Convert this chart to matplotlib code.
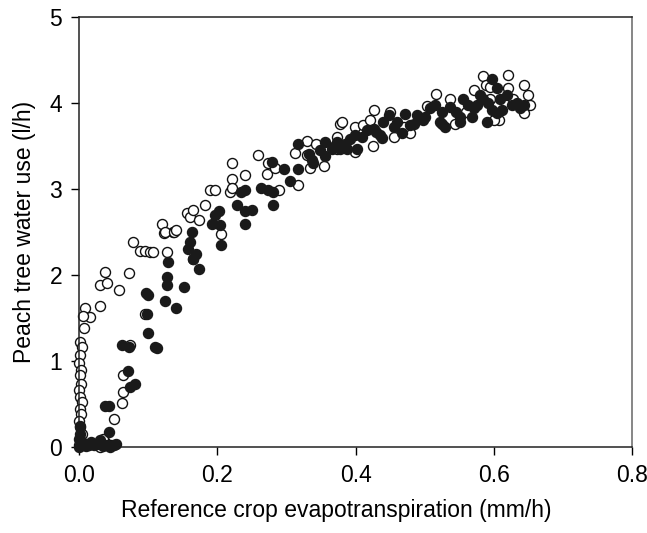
import numpy as np
import matplotlib
matplotlib.use("Agg")
import matplotlib.pyplot as plt

plt.rcParams['font.family'] = ['Liberation Sans', 'DejaVu Sans']

# open circles (x = ETo mm/h, y = water use l/h)
open_x = [0.001, 0.004, 0.002, 0.000, 0.003, 0.001, 0.003, 0.000, 0.002, 0.004,
          0.001, 0.003, 0.000, 0.002, 0.004, 0.001, 0.000, 0.008, 0.020, 0.030,
          0.038, 0.046, 0.035, 0.050, 0.062, 0.064, 0.064, 0.009, 0.016, 0.006,
          0.007, 0.030, 0.030, 0.037, 0.040, 0.058, 0.072, 0.078, 0.088, 0.096,
          0.103, 0.107, 0.128, 0.123, 0.136, 0.074, 0.096, 0.120, 0.124, 0.137,
          0.141, 0.156, 0.161, 0.165, 0.174, 0.182, 0.206, 0.165, 0.190, 0.197,
          0.218, 0.221, 0.240, 0.221, 0.221, 0.259, 0.274, 0.272, 0.284, 0.290,
          0.313, 0.330, 0.343, 0.317, 0.330, 0.334, 0.355, 0.378, 0.373, 0.380,
          0.427, 0.399, 0.411, 0.421, 0.450, 0.425, 0.399, 0.455, 0.479, 0.503,
          0.517, 0.373, 0.536, 0.571, 0.585, 0.621, 0.643, 0.650, 0.653, 0.643,
          0.607, 0.544, 0.588, 0.595, 0.621, 0.595, 0.628, 0.600, 0.560, 0.470]
open_y = [1.22, 1.16, 1.07, 0.98, 0.90, 0.84, 0.74, 0.66, 0.58, 0.52,
          0.44, 0.38, 0.30, 0.23, 0.15, 0.08, 0.02, 0.02, 0.04, 0.00,
          0.06, 0.03, 0.10, 0.33, 0.51, 0.64, 0.84, 1.62, 1.51, 1.52,
          1.39, 1.64, 1.89, 2.04, 1.91, 1.83, 2.03, 2.38, 2.28, 2.28,
          2.27, 2.27, 2.27, 2.49, 2.50, 1.19, 1.55, 2.60, 2.50, 2.50,
          2.52, 2.72, 2.68, 2.76, 2.64, 2.81, 2.48, 2.19, 2.99, 2.99,
          2.97, 3.30, 3.16, 3.12, 3.01, 3.40, 3.30, 3.18, 3.24, 2.99,
          3.42, 3.56, 3.53, 3.05, 3.40, 3.25, 3.27, 3.76, 3.47, 3.78,
          3.92, 3.72, 3.74, 3.80, 3.90, 3.50, 3.43, 3.61, 3.65, 3.97,
          4.11, 3.61, 4.05, 4.15, 4.31, 4.33, 4.21, 4.09, 3.98, 3.88,
          3.80, 3.76, 4.21, 4.19, 4.17, 4.05, 4.05, 3.80, 3.90, 3.72]

# filled circles
filled_x = [0.000, 0.003, 0.006, 0.010, 0.014, 0.018, 0.022, 0.026, 0.030, 0.035,
            0.040, 0.045, 0.050, 0.054, 0.000, 0.002, 0.001, 0.002, 0.044, 0.038,
            0.044, 0.074, 0.081, 0.071, 0.063, 0.073, 0.110, 0.113, 0.100, 0.099,
            0.097, 0.100, 0.124, 0.141, 0.128, 0.128, 0.129, 0.152, 0.174, 0.165,
            0.170, 0.158, 0.161, 0.163, 0.192, 0.204, 0.202, 0.197, 0.206, 0.228,
            0.240, 0.250, 0.240, 0.235, 0.240, 0.264, 0.274, 0.281, 0.280, 0.279,
            0.296, 0.305, 0.317, 0.317, 0.333, 0.337, 0.339, 0.356, 0.356, 0.366,
            0.373, 0.378, 0.368, 0.373, 0.385, 0.387, 0.402, 0.399, 0.409, 0.416,
            0.426, 0.436, 0.440, 0.448, 0.460, 0.467, 0.472, 0.479, 0.489, 0.498,
            0.508, 0.515, 0.522, 0.438, 0.525, 0.525, 0.530, 0.537, 0.551, 0.551,
            0.556, 0.568, 0.576, 0.580, 0.590, 0.597, 0.597, 0.604, 0.609, 0.619,
            0.626, 0.633, 0.638, 0.643, 0.585, 0.563, 0.604, 0.455, 0.485, 0.500,
            0.545, 0.572, 0.592, 0.612, 0.430, 0.392, 0.348]
filled_y = [0.00, 0.02, 0.05, 0.01, 0.03, 0.06, 0.02, 0.04, 0.08, 0.01,
            0.03, 0.00, 0.02, 0.04, 0.10, 0.15, 0.25, 0.08, 0.18, 0.48,
            0.48, 0.70, 0.73, 0.88, 1.19, 1.16, 1.17, 1.15, 1.33, 1.55,
            1.79, 1.77, 1.70, 1.62, 1.88, 1.98, 2.15, 1.86, 2.07, 2.19,
            2.25, 2.30, 2.39, 2.50, 2.60, 2.58, 2.74, 2.70, 2.35, 2.81,
            2.74, 2.76, 2.60, 2.97, 2.99, 3.01, 2.99, 2.97, 2.81, 3.32,
            3.23, 3.10, 3.23, 3.52, 3.41, 3.34, 3.30, 3.55, 3.38, 3.47,
            3.55, 3.47, 3.49, 3.53, 3.53, 3.47, 3.47, 3.63, 3.61, 3.69,
            3.70, 3.63, 3.78, 3.86, 3.78, 3.65, 3.87, 3.74, 3.86, 3.80,
            3.94, 3.98, 3.78, 3.59, 3.90, 3.76, 3.72, 3.96, 3.84, 3.78,
            4.05, 3.84, 3.98, 4.09, 3.78, 4.28, 3.92, 3.88, 4.05, 4.09,
            3.98, 4.00, 3.94, 3.98, 4.05, 3.98, 4.17, 3.72, 3.76, 3.84,
            3.90, 3.94, 4.00, 3.92, 3.66, 3.58, 3.45]

x_ticks = [0.0, 0.2, 0.4, 0.6, 0.8]
x_ticklabels = ['0.0', '0.2', '0.4', '0.6', '0.8']
y_ticks = [0, 1, 2, 3, 4, 5]

fig = plt.figure(figsize=(6.47, 5.33), dpi=100)
ax = fig.add_axes([0.122, 0.161, 0.855, 0.807])

ax.scatter(open_x, open_y, s=52, facecolors='white', edgecolors='#111111',
           linewidths=1.0, zorder=2, clip_on=False)
ax.scatter(filled_x, filled_y, s=52, facecolors='#1a1a1a', edgecolors='#1a1a1a',
           linewidths=1.0, zorder=3, clip_on=False)

ax.set_xlim(0, 0.8)
ax.set_ylim(0, 5)
ax.set_xticks(x_ticks)
ax.set_xticklabels(x_ticklabels)
ax.set_yticks(y_ticks)

for s in ax.spines.values():
    s.set_linewidth(1.1)
    s.set_color('#222222')
ax.spines['right'].set_color('#666666')

ax.tick_params(direction='out', length=6, width=1.0, labelsize=16.5, pad=6)
ax.set_xlabel('Reference crop evapotranspiration (mm/h)', fontsize=16.5)
ax.xaxis.set_label_coords(0.466, -0.12)
ax.set_ylabel('Peach tree water use (l/h)', fontsize=16.5, labelpad=10)

fig.savefig('out.png', dpi=100)
